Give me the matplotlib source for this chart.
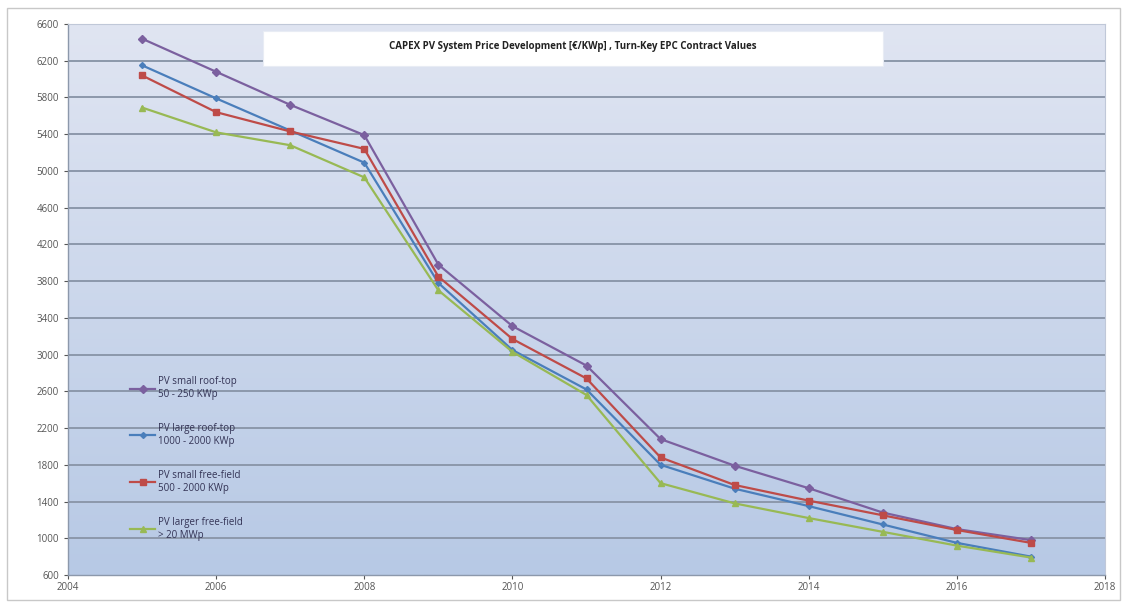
import numpy as np
import matplotlib.pyplot as plt
from matplotlib.patches import Rectangle

years = [2005, 2006, 2007, 2008, 2009, 2010, 2011, 2012, 2013, 2014, 2015, 2016, 2017]

small_rooftop = [6440, 6080, 5720, 5390, 3980, 3310, 2880, 2080, 1790, 1545, 1280, 1100, 980]
large_rooftop = [6150, 5790, 5440, 5090, 3780, 3050, 2620, 1800, 1540, 1350, 1150, 950, 800]
small_freefield = [6040, 5640, 5430, 5240, 3850, 3170, 2740, 1880, 1580, 1410, 1250, 1090, 950]
large_freefield = [5690, 5420, 5280, 4930, 3700, 3030, 2560, 1600, 1380, 1220, 1070, 920, 790]

series_labels = [
    "PV small roof-top\n50 - 250 KWp",
    "PV large roof-top\n1000 - 2000 KWp",
    "PV small free-field\n500 - 2000 KWp",
    "PV larger free-field\n> 20 MWp",
]
title_text = "CAPEX PV System Price Development [\u20ac/KWp] , Turn-Key EPC Contract Values"

y_ticks = list(range(600, 6601, 400))
x_ticks = list(range(2004, 2019, 2))

plt.rcParams['font.family'] = ['Open Sans', 'DejaVu Sans']

W, H = 1129, 604
fig = plt.figure(figsize=(W / 100, H / 100), dpi=100)
fig.patch.set_facecolor('white')

# outer chart frame
fig.patches.append(Rectangle((7 / W, 4 / H), 1113 / W, 592 / H, transform=fig.transFigure,
                             fill=False, edgecolor='#c8c8c8', linewidth=1.0))

left, right, top, bottom = 68, 1105, 24, 575
ax = fig.add_axes([left / W, 1 - bottom / H, (right - left) / W, (bottom - top) / H])

ax.set_xlim(2004, 2018)
ax.set_ylim(600, 6600)

# vertical gradient background
grad = np.linspace(0, 1, 256).reshape(-1, 1)
top_c = np.array([0xe0, 0xe5, 0xf2]) / 255
bot_c = np.array([0xb7, 0xc9, 0xe5]) / 255
img = top_c + (bot_c - top_c) * grad
ax.imshow(img[::-1].reshape(256, 1, 3), extent=[2004, 2018, 600, 6600],
          aspect='auto', origin='lower', zorder=0)

for yv in y_ticks[1:]:
    ax.axhline(yv, color='#8c98ab', linewidth=1.4, zorder=1)

styles = [
    dict(color='#7b609f', marker='D', markersize=4),
    dict(color='#4a7ebb', marker='D', markersize=3),
    dict(color='#be4b48', marker='s', markersize=5),
    dict(color='#98b954', marker='^', markersize=4.5),
]
data = [small_rooftop, large_rooftop, small_freefield, large_freefield]

handles = []
for vals, st, lab in zip(data, styles, series_labels):
    h, = ax.plot(years, vals, linewidth=1.6, color=st['color'], marker=st['marker'],
                 markersize=st['markersize'], markerfacecolor=st['color'],
                 markeredgecolor=st['color'], label=lab, zorder=3)
    handles.append(h)

ax.set_xticks(x_ticks)
ax.set_yticks(y_ticks)
ax.tick_params(axis='both', labelsize=7, colors='#555555', length=3, width=0.8)
ax.tick_params(axis='x', pad=2)
for sp in ['top', 'right']:
    ax.spines[sp].set_color('#c0c8d8')
    ax.spines[sp].set_linewidth(0.8)
for sp in ['left', 'bottom']:
    ax.spines[sp].set_color('#8c98ab')
    ax.spines[sp].set_linewidth(1.0)

leg = ax.legend(handles=handles, loc='upper left', bbox_to_anchor=(0.056, 0.368),
                frameon=False, fontsize=7, labelspacing=2.4, handlelength=2.6,
                handletextpad=0.3, labelcolor='#333355', borderaxespad=0)

# title box
fig.patches.append(Rectangle((263 / W, 1 - 66 / H), 620 / W, 35 / H, transform=fig.transFigure,
                             facecolor='white', edgecolor='#e8ecf4', linewidth=0.8, zorder=5))
fig.text(573 / W, 1 - 46 / H, title_text, ha='center', va='center', fontsize=7,
         fontweight='bold', color='#222222', zorder=6)

fig.savefig('out.png', dpi=100)
